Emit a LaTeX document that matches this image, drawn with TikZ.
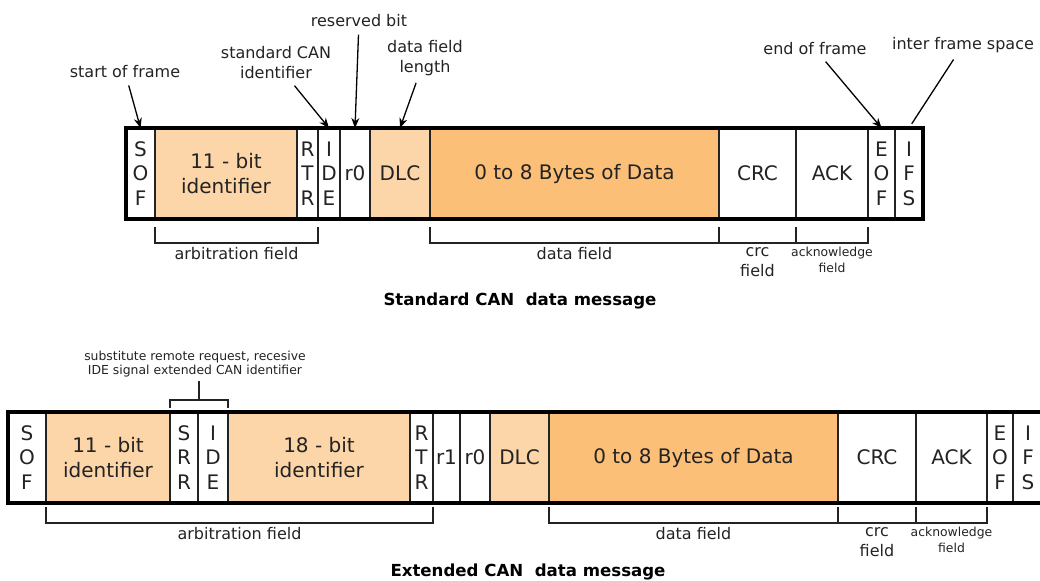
\documentclass[tikz,border=0pt]{standalone}
\usepackage{fontspec}
\setmainfont{DejaVu Sans}
\usetikzlibrary{arrows.meta, calc, positioning}
\definecolor{idpeach}{RGB}{252,213,168}
\definecolor{dataorange}{RGB}{252,191,120}
\definecolor{inkgray}{RGB}{35,35,35}
% bracket under a run of cells: [label style]{gap}{first cell}{last cell}{name}{text}
\newcommand{\fieldbrace}[6][]{%
  \draw[brace] ([yshift=-#2]#3.south west) -- ++(0,-8pt) -| ([yshift=-#2]#4.south east);
  \path ([yshift=-#2-8pt]#3.south west) -- ([yshift=-#2-8pt]#4.south east)
    node[midway, below, fieldlabel, #1] (#5) {#6};
}

\begin{document}
\begin{tikzpicture}[x=0.5pt, y=-0.5pt,
  cell/.style={draw=inkgray, line width=0.8pt, minimum height=45.5pt,
    inner sep=0pt, outer sep=0pt, align=center, text=inkgray,
    font=\fontsize{10}{12.2}\selectfont},
  frame/.style={draw=black, line width=1.6pt},
  note/.style={align=center, inner sep=1.5pt, text=inkgray,
    font=\fontsize{8}{10}\selectfont},
  smallnote/.style={note, font=\fontsize{6.2}{7.2}\selectfont},
  ackfont/.style={font=\fontsize{6.2}{8}\selectfont},
  fieldlabel/.style={note, inner sep=2pt},
  title/.style={text=black, font=\fontsize{8.3}{10}\selectfont\bfseries},
  arr/.style={-{Stealth[length=5pt, width=4pt]}, line width=0.65pt, shorten <=2pt},
  brace/.style={draw=inkgray, line width=0.75pt}]

\useasboundingbox (0,0) rectangle (1040,581);

%---- standard frame -----------------------------------------------------------
\coordinate (sstart) at (126,173.5);
\foreach \n/\w/\c/\t [remember=\n as \p (initially start)] in {
    sof/29/white/{S\\O\\F},
    id/142/idpeach/{11 - bit\\identifier},
    rtr/21/white/{R\\T\\R},
    ide/22/white/{I\\D\\E},
    rz/30/white/r0,
    dlc/60/idpeach/DLC,
    data/289/dataorange/0 to 8 Bytes of Data,
    crc/77/white/CRC,
    ack/72/white/ACK,
    eof/27/white/{E\\O\\F},
    ifs/28/white/{I\\F\\S}}
  \node[cell, fill=\c, minimum width=\w*0.5pt, right=0pt of s\p] (s\n) {\t};
\draw[frame] (ssof.north west) rectangle (sifs.south east);

\node[note] (tsof) at (125,72) {start of frame};
\node[note] (tid)  at (276,63) {standard CAN\\identifier};
\node[note] (tres) at (359,21) {reserved bit};
\node[note] (tdlc) at (425,58) {data field\\length};
\node[note] (teof) at (815,49) {end of frame};
\node[note] (tifs) at (963,45) {inter frame space};

\draw[arr] (tsof) -- (ssof.north);
\draw[arr] (tid)  -- (side.north);
\draw[arr] (tres) -- (srz.north);
\draw[arr] (tdlc) -- (sdlc.north);
\draw[arr] (teof) -- (seof.north);
\draw[line width=0.65pt, shorten <=2pt, shorten >=2.5pt] (tifs) -- (sifs.north);

\fieldbrace{4pt}{sid}{srtr}{sarb}{arbitration field}
\fieldbrace{4pt}{sdata}{sdata}{sdf}{data field}
\fieldbrace{4pt}{scrc}{scrc}{scf}{crc\\field}
\fieldbrace[ackfont]{4pt}{sack}{sack}{saf}{acknowledge\\field}

\node[title] (stitle) at (520,301) {Standard CAN~~data message};

%---- extended frame -----------------------------------------------------------
\coordinate (estart) at (8,457.5);
\foreach \n/\w/\c/\t [remember=\n as \p (initially start)] in {
    sof/38/white/{S\\O\\F},
    ida/124/idpeach/{11 - bit\\identifier},
    srr/28/white/{S\\R\\R},
    ide/30/white/{I\\D\\E},
    idb/182/idpeach/{18 - bit\\identifier},
    rtr/23/white/{R\\T\\R},
    rone/27/white/r1,
    rz/30/white/r0,
    dlc/59/idpeach/DLC,
    data/289/dataorange/0 to 8 Bytes of Data,
    crc/78/white/CRC,
    ack/71/white/ACK,
    eof/26/white/{E\\O\\F},
    ifs/30/white/{I\\F\\S}}
  \node[cell, fill=\c, minimum width=\w*0.5pt, right=0pt of e\p] (e\n) {\t};
\draw[frame] (esof.north west) rectangle (eifs.south east);

% SRR + IDE note
\node[smallnote] (tsrr) at (195,364)
  {substitute remote request, recesive\\IDE signal extended CAN identifier};
\draw[brace] ([yshift=2pt]esrr.north west) -- ++(0,4pt) -| ([yshift=2pt]eide.north east);
\coordinate (srrtop) at ([yshift=6pt]$(esrr.north west)!0.5!(eide.north east)$);
\draw[brace] (srrtop) -- (srrtop |- tsrr.south);

\fieldbrace{2pt}{eida}{ertr}{earb}{arbitration field}
\fieldbrace{2pt}{edata}{edata}{edf}{data field}
\fieldbrace{2pt}{ecrc}{ecrc}{ecf}{crc\\field}
\fieldbrace[ackfont]{2pt}{eack}{eack}{eaf}{acknowledge\\field}

\node[title] (etitle) at (528,572) {Extended CAN~~data message};
\end{tikzpicture}
\end{document}
